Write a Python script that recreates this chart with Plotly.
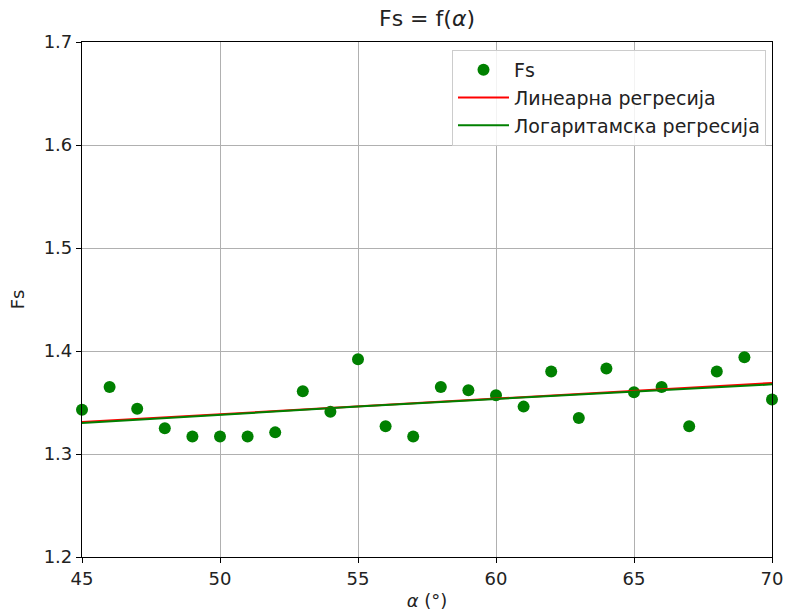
import plotly.graph_objects as go

# Data
alpha = [45, 46, 47, 48, 49, 50, 51, 52, 53, 54, 55, 56, 57,
         58, 59, 60, 61, 62, 63, 64, 65, 66, 67, 68, 69, 70]
fs = [1.343, 1.365, 1.344, 1.325, 1.317, 1.317, 1.317, 1.321, 1.361, 1.341, 1.392, 1.327, 1.317,
      1.365, 1.362, 1.357, 1.346, 1.380, 1.335, 1.383, 1.360, 1.365, 1.327, 1.380, 1.394, 1.353]

reg_x = [45, 50, 55, 60, 65, 70]
lin_reg = [1.331, 1.3386, 1.3462, 1.3538, 1.3614, 1.369]
log_reg = [1.330, 1.3383, 1.3461, 1.3535, 1.3607, 1.3676]

x_ticks = [45, 50, 55, 60, 65, 70]
y_ticks = [1.2, 1.3, 1.4, 1.5, 1.6, 1.7]

font_family = "DejaVu Sans"
txt = "#222222"

fig = go.Figure()
fig.add_trace(go.Scatter(x=alpha, y=fs, mode="markers", name="Fs",
                         marker=dict(color="#008000", size=12, line=dict(width=0)),
                         cliponaxis=False))
fig.add_trace(go.Scatter(x=reg_x, y=lin_reg, mode="lines", name="Линеарна регресија",
                         line=dict(color="#ff0000", width=2)))
fig.add_trace(go.Scatter(x=reg_x, y=log_reg, mode="lines", name="Логаритамска регресија",
                         line=dict(color="#008000", width=2)))

axis_common = dict(showline=True, linecolor="#000000", linewidth=1.2, mirror=True,
                   ticks="outside", ticklen=5, tickwidth=1.2, tickcolor="#000000",
                   showgrid=True, gridcolor="#b0b0b0", gridwidth=1, zeroline=False,
                   automargin=False,
                   tickfont=dict(family=font_family, size=18, color=txt))

fig.update_layout(
    width=787, height=614,
    margin=dict(l=82, r=15, t=42, b=57),
    paper_bgcolor="white", plot_bgcolor="white",
    font=dict(family=font_family, size=18, color=txt),
    title=dict(text="Fs = f(<i>α</i>)", x=0.5, xref="paper", xanchor="center",
               yref="container", y=1 - 18 / 614, yanchor="middle",
               font=dict(family=font_family, size=22, color=txt)),
    xaxis=dict(range=[45, 70], tickvals=x_ticks, ticktext=[str(v) for v in x_ticks],
               title=dict(text="<i>α</i> (°)", standoff=6,
                          font=dict(family=font_family, size=18, color=txt)),
               **axis_common),
    yaxis=dict(range=[1.2, 1.7], tickvals=y_ticks, ticktext=[f"{v:.1f}" for v in y_ticks],
               title=dict(text="Fs", standoff=14,
                          font=dict(family=font_family, size=18, color=txt)),
               **axis_common),
    legend=dict(x=0.9913, y=0.9845, xanchor="right", yanchor="top",
                bgcolor="rgba(255,255,255,0.85)", bordercolor="#cccccc", borderwidth=1,
                font=dict(family=font_family, size=19, color=txt),
                itemwidth=51, tracegroupgap=0),
    showlegend=True,
)

fig.write_html("out.html", config={"displayModeBar": False},
               post_script="document.body.style.margin='0px';document.body.style.padding='0px';")
